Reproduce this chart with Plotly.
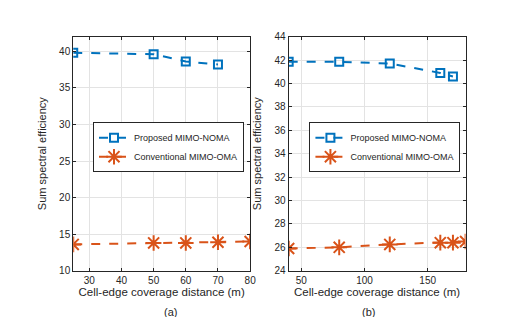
import plotly.graph_objects as go

# Panel (a)
a_noma_x = [25, 50, 60, 70]
a_noma_y = [39.8, 39.6, 38.6, 38.2]
a_oma_x = [25, 50, 60, 70, 80]
a_oma_y = [13.6, 13.8, 13.8, 13.9, 14.0]

# Panel (b)
b_noma_x = [40, 80, 120, 160, 170]
b_noma_y = [41.85, 41.85, 41.7, 40.9, 40.6]
b_oma_x = [40, 80, 120, 160, 170, 180]
b_oma_y = [25.9, 26.0, 26.25, 26.4, 26.4, 26.5]

names = ["Proposed MIMO-NOMA", "Conventional MIMO-OMA"]
blue = "#0072BD"
orange = "#D95319"
W, H = 512, 317
FAM = "Liberation Sans, Arial, sans-serif"

fig = go.Figure()

def add(x, y, name, color, sym, size, xa, ya, leg):
    fig.add_trace(go.Scatter(
        x=x, y=y, name=name, mode="lines+markers",
        line=dict(color=color, width=2, dash="dash"),
        marker=dict(symbol=sym, size=size, color=color,
                    line=dict(color=color, width=2)),
        xaxis=xa, yaxis=ya, legend=leg))

add(a_noma_x, a_noma_y, names[0], blue, "square-open", 8, "x", "y", "legend")
add(a_oma_x, a_oma_y, names[1], orange, "asterisk-open", 13, "x", "y", "legend")
add(b_noma_x, b_noma_y, names[0], blue, "square-open", 8, "x2", "y2", "legend2")
add(b_oma_x, b_oma_y, names[1], orange, "asterisk-open", 13, "x2", "y2", "legend2")

font = dict(family=FAM, size=10, color="#262626")
axcommon = dict(showline=True, linecolor="#262626", linewidth=1, mirror="ticks",
                ticks="inside", ticklen=3, tickcolor="#262626",
                showgrid=True, gridcolor="#e3e3e3", zeroline=False,
                tickfont=dict(family=FAM, size=10, color="#262626"))

xtitle = dict(text="Cell-edge coverage distance (m)", font=dict(size=11.5), standoff=3)
ytitle = dict(text="Sum spectral efficiency", font=dict(size=11), standoff=10)
ydom = [1 - 267 / H, 1 - 24.5 / H]
legcommon = dict(yanchor="middle", xanchor="left", y=1 - 139 / H,
                 bgcolor="white", bordercolor="#262626", borderwidth=1,
                 font=dict(size=9), tracegroupgap=0, itemwidth=30)
fig.update_layout(
    width=W, height=H, margin=dict(l=0, r=0, t=0, b=0),
    paper_bgcolor="white", plot_bgcolor="white", font=font,
    xaxis=dict(domain=[66 / W, 245 / W], range=[25, 80], tickvals=[30, 40, 50, 60, 70, 80],
               title=xtitle, anchor="y", **axcommon),
    yaxis=dict(domain=ydom, range=[10, 42], tickvals=[10, 15, 20, 25, 30, 35, 40],
               title=ytitle, anchor="x", **axcommon),
    xaxis2=dict(domain=[284 / W, 463 / W], range=[40, 180], tickvals=[50, 100, 150],
                title=xtitle, anchor="y2", **axcommon),
    yaxis2=dict(domain=ydom, range=[24, 44], tickvals=list(range(24, 45, 2)),
                title=ytitle, anchor="x2", **axcommon),
    legend=dict(x=86 / W, **legcommon),
    legend2=dict(x=305 / W, **legcommon),
    annotations=[
        dict(text="(a)", x=155.5 / W, y=1 - 310 / H, xref="paper", yref="paper",
             yanchor="middle", showarrow=False, font=dict(size=11, color="#262626")),
        dict(text="(b)", x=373.5 / W, y=1 - 310 / H, xref="paper", yref="paper",
             yanchor="middle", showarrow=False, font=dict(size=11, color="#262626")),
    ],
)

fig.write_html("out.html")
